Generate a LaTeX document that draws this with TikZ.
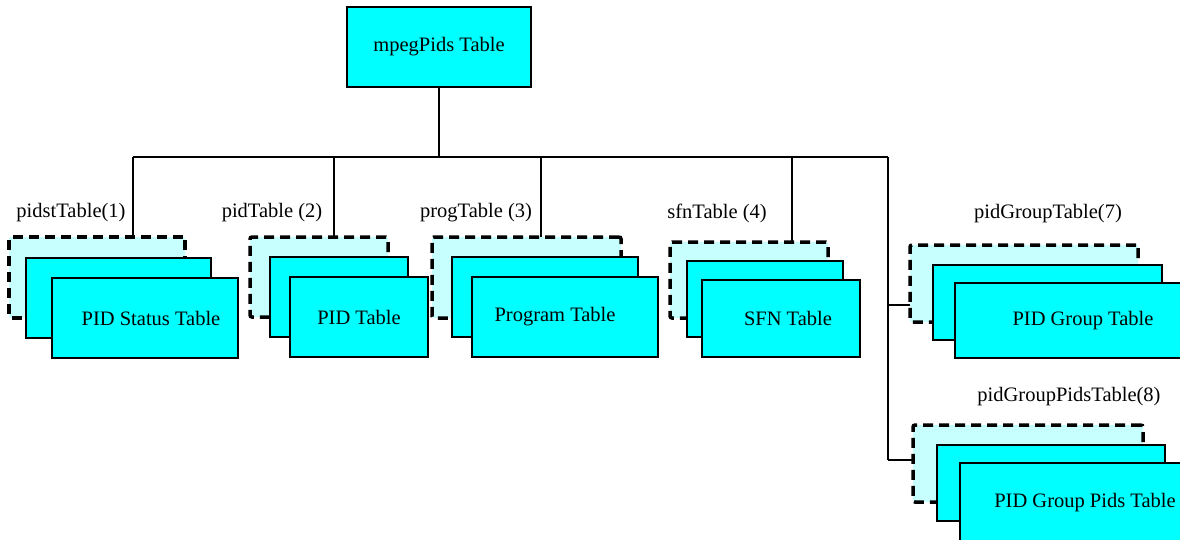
\documentclass[tikz,border=0pt]{standalone}
\usepackage{fontspec}
\setmainfont{Liberation Serif}
\definecolor{aqua}{RGB}{0,255,255}
\begin{document}
\begin{tikzpicture}[x=1pt,y=-1pt,
  every node/.style={font=\fontsize{20.5}{24}\selectfont, inner sep=0pt, outer sep=0pt},
  tbl/.style={draw=black, line width=2.5pt, fill=aqua},
  ghost/.style={draw=black, line width=3.5pt, dash pattern=on 10pt off 6pt,
                fill=aqua!22, rounded corners=2pt},
  caption/.style={},
  link/.style={line width=2.2pt}]
\useasboundingbox (0,0) rectangle (1180,540);

% root table
\node[tbl, minimum width=184pt, minimum height=80pt] (root) at (439,47) {mpegPids Table};

% bus
\coordinate (busL) at (133,157);
\coordinate (busR) at (888,157);
\coordinate (d1) at (133,157);
\coordinate (d2) at (334,157);
\coordinate (d3) at (541,157);
\coordinate (d4) at (792,157);
\coordinate (e5) at (888,305);
\coordinate (e6) at (888,460);

% stacks: back (dashed), middle, front
\node[ghost, minimum width=176pt, minimum height=81pt] (b1) at (97,277.5) {};
\node[tbl, minimum width=185pt, minimum height=80pt] (m1) at (118.5,298) {};
\node[tbl, minimum width=186pt, minimum height=80pt] (f1) at (145,318) {\hspace*{12pt}PID Status Table};

\node[ghost, minimum width=138pt, minimum height=80pt] (b2) at (319,277) {};
\node[tbl, minimum width=138pt, minimum height=80pt] (m2) at (339,297) {};
\node[tbl, minimum width=138pt, minimum height=80pt] (f2) at (359,317) {PID Table};

\node[ghost, minimum width=189pt, minimum height=81pt] (b3) at (526.5,277.5) {};
\node[tbl, minimum width=186pt, minimum height=80pt] (m3) at (545,297) {};
\node[tbl, minimum width=186pt, minimum height=80pt] (f3) at (565,317) {Program Table\hspace*{20pt}};

\node[ghost, minimum width=158pt, minimum height=76pt] (b4) at (749,280) {};
\node[tbl, minimum width=156pt, minimum height=76pt] (m4) at (765,299) {};
\node[tbl, minimum width=158pt, minimum height=77pt] (f4) at (781,318.5) {\hspace*{14pt}SFN Table};

\node[ghost, minimum width=228pt, minimum height=77pt] (b5) at (1024,283.5) {};
\node[tbl, minimum width=229pt, minimum height=75pt] (m5) at (1047.5,302.5) {};
\node[tbl, minimum width=226pt, minimum height=75pt] (f5) at (1068,320.5) {\hspace*{30pt}PID Group Table};

\node[ghost, minimum width=230pt, minimum height=77pt] (b6) at (1028,463.5) {};
\node[tbl, minimum width=228pt, minimum height=76pt] (m6) at (1051,483) {};
\node[tbl, minimum width=228pt, minimum height=80pt] (f6) at (1074,503) {\hspace*{22pt}PID Group Pids Table};

% captions
\node[caption] (c1) at (71,213) {pidstTable(1)};
\node[caption] (c2) at (272,213) {pidTable (2)};
\node[caption] (c3) at (476,213) {progTable (3)};
\node[caption] (c4) at (717,213) {sfnTable (4)};
\node[caption] (c5) at (1048,214) {pidGroupTable(7)};
\node[caption] (c6) at (1069,397) {pidGroupPidsTable(8)};

% connectors
\draw[link] (root.south) -- (root.south |- busL);
\draw[link] (busL) -- (busR);
\draw[link] (d1) -- (d1 |- b1.north);
\draw[link] (d2) -- (d2 |- b2.north);
\draw[link] (d3) -- (d3 |- b3.north);
\draw[link] (d4) -- (d4 |- b4.north);
\draw[link] (busR) -- (e6);
\draw[link] (e5) -- (e5 -| b5.west);
\draw[link] (e6) -- (e6 -| b6.west);
\end{tikzpicture}
\end{document}
